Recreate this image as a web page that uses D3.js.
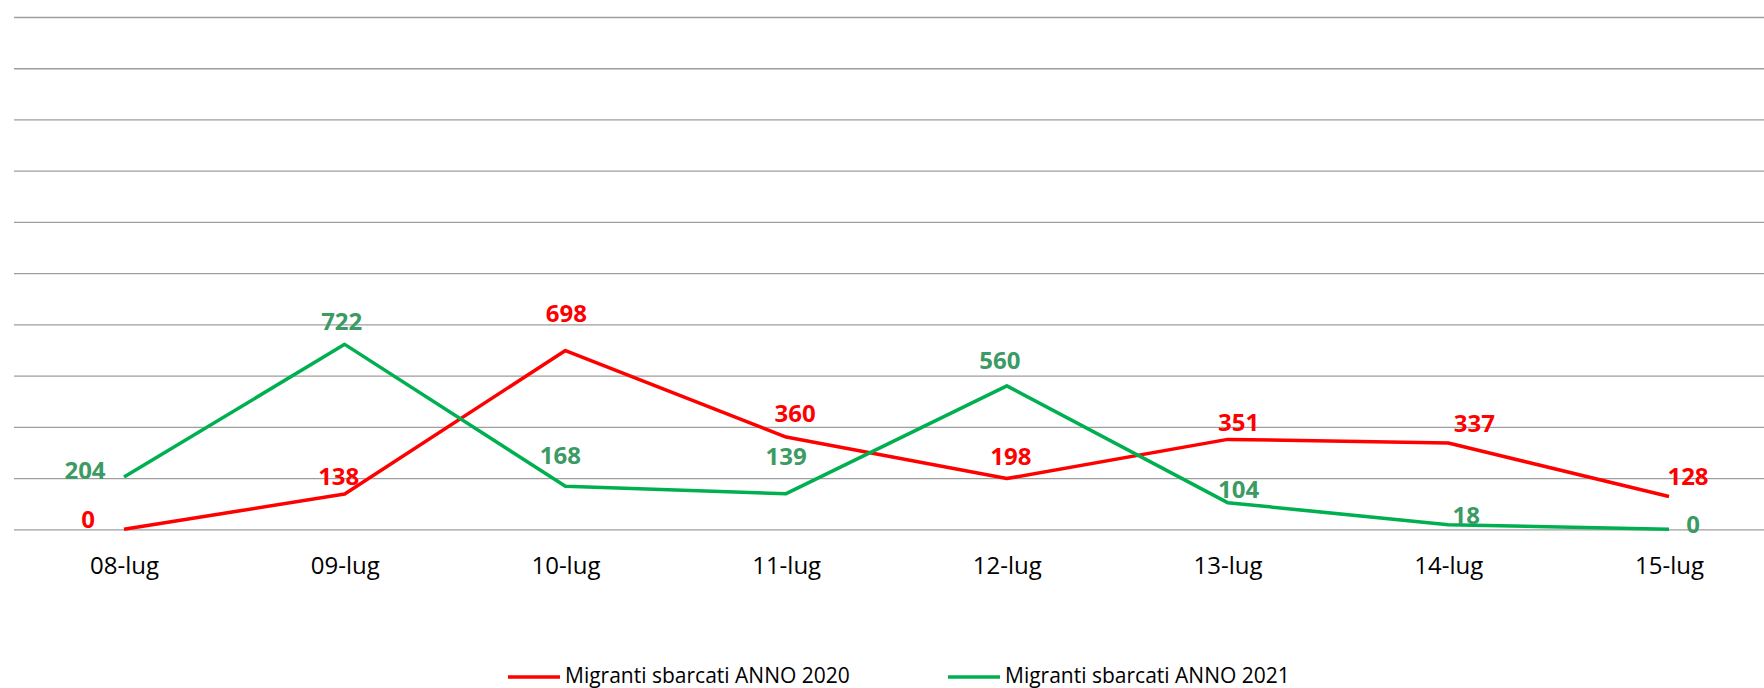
<!DOCTYPE html>
<html lang="it">
<head>
<meta charset="UTF-8">
<title>Migranti sbarcati</title>
<script src="https://cdn.jsdelivr.net/npm/d3@7/dist/d3.min.js"></script>
<style>
  body { margin: 0; background: #fff; }
  svg { display: block; font-family: "Open Sans", sans-serif; }
  .grid line { stroke: #9e9e9e; stroke-width: 1.3px; }
  .grid .domain { display: none; }
  .xaxis .domain, .xaxis line { display: none; }
  .xaxis text { font-family: "Open Sans", sans-serif; font-size: 24px; fill: #000; }
  .lbl { font-size: 24px; font-weight: bold; }
  .legend text { font-size: 21px; fill: #000; }
</style>
</head>
<body>
<script>
    var days = ["08-lug", "09-lug", "10-lug", "11-lug", "12-lug", "13-lug", "14-lug", "15-lug"];
    var anno2020 = [0, 138, 698, 360, 198, 351, 337, 128];
    var anno2021 = [204, 722, 168, 139, 560, 104, 18, 0];
    var gridTicks = [0, 200, 400, 600, 800, 1000, 1200, 1400, 1600, 1800, 2000];

    // spostamenti manuali delle etichette (come in Excel)
    var off2020 = [[-36, -10], [-6, -18], [1, -37], [9, -24], [4, -22], [11, -17], [26, -20], [19, -20]];
    var off2021 = [[-39, -7], [-3, -23], [-5, -31], [0, -37], [-7, -25], [11, -13], [18, -9], [24, -5]];

    var series = [
        {name: "Migranti sbarcati ANNO 2020", values: anno2020, line: "#ff0000", text: "#ff0000", off: off2020},
        {name: "Migranti sbarcati ANNO 2021", values: anno2021, line: "#00b050", text: "#3c9a64", off: off2021}
    ];

    var W = 1764, H = 688;
    var svg = d3.select("body").append("svg")
        .attr("width", W)
        .attr("height", H);

    var x = d3.scalePoint()
        .domain(days)
        .range([124, 1669]);

    var y = d3.scaleLinear()
        .domain([0, 2000])
        .range([529.3, 17]);

    // griglia orizzontale
    svg.append("g")
        .attr("class", "grid")
        .attr("transform", "translate(14,0)")
        .call(d3.axisLeft(y).tickValues(gridTicks).tickSize(-(W - 14)).tickFormat(""));

    svg.append("g")
        .attr("class", "xaxis")
        .attr("transform", "translate(0," + y(0) + ")")
        .call(d3.axisBottom(x).tickSize(0).tickPadding(28));

    var line = d3.line()
        .x(function(d, i) { return x(days[i]); })
        .y(function(d) { return y(d); });

    series.forEach(function(s) {
        svg.append("path")
            .datum(s.values)
            .attr("d", line)
            .attr("fill", "none")
            .attr("stroke", s.line)
            .attr("stroke-width", 3.5)
            .attr("stroke-linejoin", "round");
    });

    series.forEach(function(s) {
        svg.append("g").selectAll("text")
            .data(s.values)
            .enter()
            .append("text")
            .attr("class", "lbl")
            .attr("x", function(d, i) { return x(days[i]) + s.off[i][0]; })
            .attr("y", function(d, i) { return y(d) + s.off[i][1]; })
            .attr("dy", "0.36em")
            .attr("text-anchor", "middle")
            .attr("fill", s.text)
            .text(function(d) { return d; });
    });

    // legenda
    var legX = [508, 948];
    var legend = svg.append("g").attr("class", "legend");
    series.forEach(function(s, i) {
        legend.append("line")
            .attr("x1", legX[i]).attr("x2", legX[i] + 52)
            .attr("y1", 677).attr("y2", 677)
            .attr("stroke", s.line)
            .attr("stroke-width", 3.5);
        legend.append("text")
            .attr("x", legX[i] + 57)
            .attr("y", 683)
            .text(s.name);
    });
</script>
</body>
</html>
